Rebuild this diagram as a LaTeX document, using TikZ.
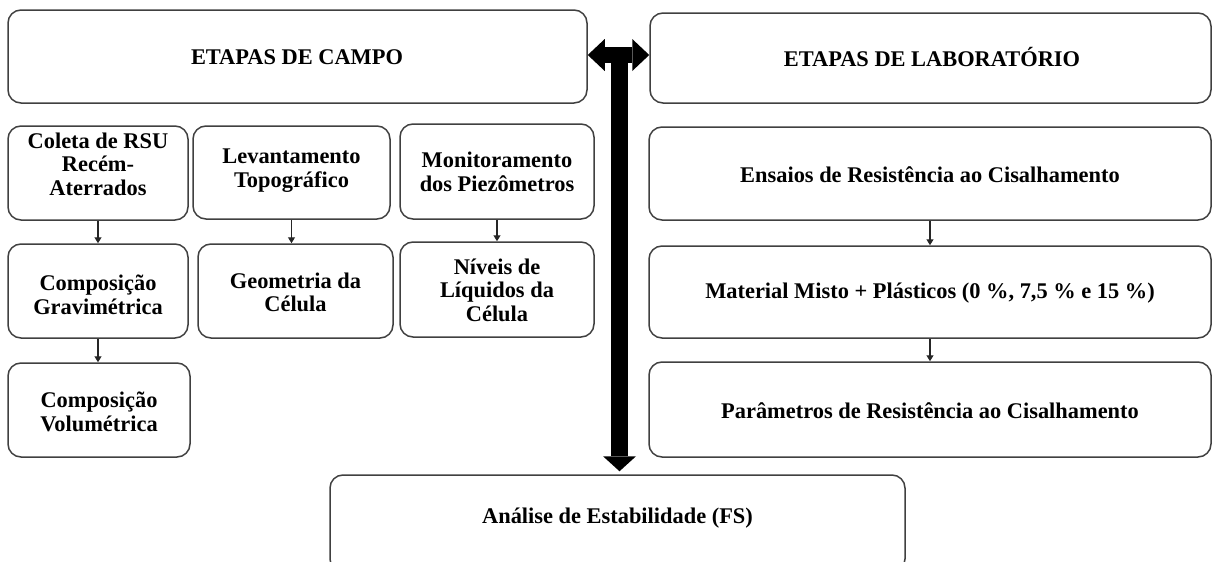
\documentclass[tikz,border=0pt]{standalone}
\usepackage{fontspec}
\setmainfont{Liberation Serif}
\usetikzlibrary{arrows.meta,calc}
\begin{document}
\begin{tikzpicture}[x=0.5pt,y=-0.5pt,
  bx/.style={draw=black!75, line width=0.75pt, rounded corners=6.5pt, inner sep=0pt},
  txt/.style={font=\bfseries\fontsize{11.2pt}{11.75pt}\selectfont, align=center, inner sep=0pt},
  smallarr/.style={draw=black!85, line width=0.6pt, arrows={-Triangle[width=3.5pt,length=3pt]}},
  bigh/.style={line width=8pt, arrows={Triangle[width=16pt,length=8.5pt,line width=0pt]-Triangle[width=16pt,length=8.5pt,line width=0pt]}},
  bigv/.style={line width=8.5pt, arrows={-Triangle[width=16.5pt,length=7.5pt,line width=0pt]}}
]
\useasboundingbox (0,0) rectangle (1212,562);
\clip (0,0) rectangle (1212,562);

% top boxes
\node[bx, minimum width=289.5pt, minimum height=46.5pt] (campo) at (297.5,56.5) {};
\node[txt] (campot) at (297,57) {ETAPAS DE CAMPO};
\node[bx, minimum width=280.5pt, minimum height=45pt] (lab) at (930.5,58) {};
\node[txt] (labt) at (932,57) {ETAPAS DE LABORATÓRIO};

% field column boxes
\node[bx, minimum width=90pt, minimum height=47pt] (coleta) at (98,173) {};
\node[txt] (coletat) at (98,164) {Coleta de RSU\\Recém-\\Aterrados};
\node[bx, minimum width=98.5pt, minimum height=46.5pt] (lev) at (291.5,172.5) {};
\node[txt] (levt) at (291.5,170.5) {Levantamento\\Topográfico};
\node[bx, minimum width=97pt, minimum height=47.5pt] (mon) at (497,171.5) {};
\node[txt] (mont) at (497,172) {Monitoramento\\dos Piezômetros};

\node[bx, minimum width=90pt, minimum height=47pt] (grav) at (98,291) {};
\node[txt] (gravt) at (98,295) {Composição\\Gravimétrica};
\node[bx, minimum width=97.5pt, minimum height=47pt] (geo) at (295.5,291) {};
\node[txt] (geot) at (295.5,292.5) {Geometria da\\Célula};
\node[bx, minimum width=97pt, minimum height=47.5pt] (niv) at (497,289.5) {};
\node[txt] (nivt) at (497,290) {Níveis de\\Líquidos da\\Célula};

\node[bx, minimum width=91pt, minimum height=47pt] (vol) at (99,410) {};
\node[txt] (volt) at (99,412) {Composição\\Volumétrica};

% laboratory column
\node[bx, minimum width=281pt, minimum height=46.5pt] (ens) at (930,173.5) {};
\node[txt] (enst) at (930,175) {Ensaios de Resistência ao Cisalhamento};
\node[bx, minimum width=281pt, minimum height=46pt] (mat) at (930,292) {};
\node[txt] (matt) at (930,293) {Material Misto + Plásticos (0 \%, 7,5 \% e 15 \%)};
\node[bx, minimum width=281pt, minimum height=47.5pt] (par) at (930,409.5) {};
\node[txt] (part) at (930,411) {Parâmetros de Resistência ao Cisalhamento};

% bottom box
\node[bx, minimum width=287.5pt, minimum height=48.5pt] (ana) at (617.5,523.5) {};
\node[txt] (anat) at (617.5,518) {Análise de Estabilidade (FS)};

% small arrows
\draw[smallarr] (coleta.south) -- (coleta.south |- grav.north);
\draw[smallarr] (grav.south) -- (grav.south |- vol.north);
\draw[smallarr] (lev.south) -- (lev.south |- geo.north);
\draw[smallarr] (mon.south) -- (mon.south |- niv.north);
\draw[smallarr] (ens.south) -- (ens.south |- mat.north);
\draw[smallarr] (mat.south) -- (mat.south |- par.north);

% big T arrow
\coordinate (hc) at (619.5,55);
\coordinate (vt) at (619.5,47);
\draw[bigh] (campo.east |- hc) -- (lab.west |- hc);
\draw[bigv] (vt) -- ($(vt |- ana.north)+(0,-3)$);
\end{tikzpicture}
\end{document}
